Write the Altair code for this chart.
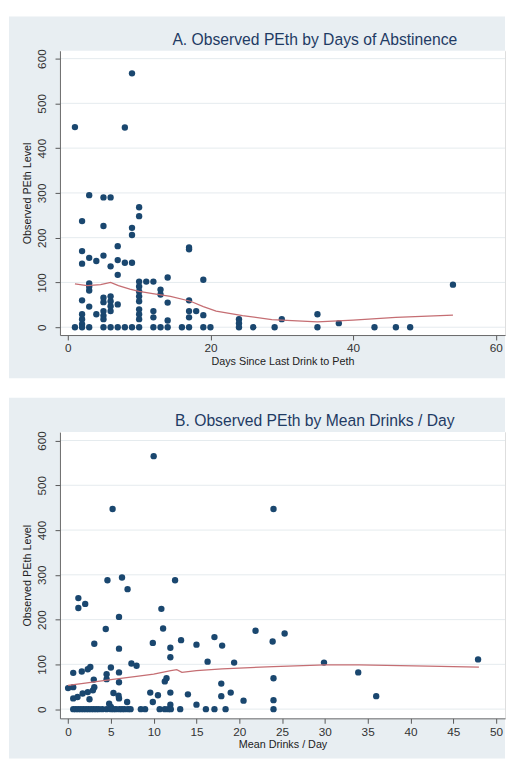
import altair as alt
import pandas as pd

# ---------------- Panel A: PEth by days of abstinence ----------------
days_a = [1, 8, 9,
          2, 3, 5, 6, 5, 10, 10, 9, 9, 7, 2, 2, 3, 4, 5, 6, 7, 8, 9, 7,
          3, 3, 3, 2, 3, 4, 2, 2, 2, 5, 5, 5, 5, 5, 6, 6, 6, 6, 7,
          10, 10, 10, 10, 10, 10, 10, 10,
          11, 12, 12, 12, 13, 13, 14, 14, 14,
          17, 17, 17, 17, 17, 18, 19, 19,
          24, 24, 30, 35, 38, 54,
          1, 2, 3, 5, 6, 7, 8, 9, 10, 12, 13, 14, 16, 17, 19, 20, 24, 26, 29, 35, 43, 46, 48]
peth_a = [447, 446, 567,
          237, 295, 290, 290, 226, 268, 248, 222, 206, 181, 170, 142, 155, 148, 160, 136, 150, 144, 144, 117,
          98, 91, 82, 60, 46, 29, 29, 18, 7, 66, 56, 36, 26, 18, 69, 58, 47, 36, 51,
          102, 91, 80, 69, 58, 40, 29, 18,
          102, 102, 36, 22, 84, 73, 111, 55, 15,
          178, 174, 60, 36, 22, 36, 106, 27,
          18, 9, 18, 29, 9, 95,
          0, 0, 0, 0, 0, 0, 0, 0, 0, 0, 0, 0, 0, 0, 0, 0, 0, 0, 0, 0, 0, 0, 0]

curve_a_x = [1, 2.7, 4.6, 6, 7.1, 8.7, 10, 11.9, 14.4, 17.2, 19, 20.8, 24.5, 28.6, 35, 40, 46, 54]
curve_a_y = [97, 93, 95, 100, 93, 85, 80, 75, 69, 58, 46, 36, 26, 17, 12, 16, 22, 27]

# ---------------- Panel B: PEth by mean drinks / day ----------------
drinks_b = [0, 0.6, 0.6, 0.6, 1.1, 1.2, 1.2, 1.6, 1.7, 2.0, 2.3, 2.3, 2.5, 2.6, 2.9, 3.0, 3.06, 3.06,
            4.4, 4.5, 4.5, 4.6, 4.8, 5.0, 5.0, 5.2, 5.3, 5.9, 5.95, 5.95, 5.95, 5.95, 5.95, 6.3, 6.9,
            6.95, 7.4, 8.0, 9.6, 9.9, 9.9, 10, 10.5, 10.9, 11.1, 11.3, 11.5, 11.95, 11.95, 11.95, 11.95,
            12.5, 13.2, 14, 15, 15, 16.3, 17.1, 18, 17.9, 17.9, 19, 19.4, 20.5, 21.9, 23.9, 24, 24, 24,
            25.3, 29.9, 33.9, 36, 47.9,
            0.6, 0.9, 1.2, 1.5, 1.8, 2.1, 2.4, 2.7, 3.0, 3.3, 3.6, 4.0, 4.5, 5.0, 5.3, 5.6, 6.0, 6.3,
            6.6, 7.0, 7.3, 8.5, 9.0, 10.7, 11.3, 11.7, 12.0, 13.1, 16.1, 17.1, 18.4, 24]
peth_b = [47, 49, 81, 24, 27, 248, 226, 84, 35, 235, 89, 38, 22, 94, 42, 66, 146, 49,
          179, 78, 67, 288, 12, 93, 5, 447, 36, 30, 24, 206, 135, 82, 60, 294, 16,
          268, 102, 97, 37, 16, 148, 565, 31, 224, 180, 62, 69, 137, 116, 37, 10,
          288, 154, 33, 144, 10, 106, 161, 142, 57, 29, 37, 104, 19, 175, 151, 447, 69, 20,
          169, 104, 82, 29, 111,
          0, 0, 0, 0, 0, 0, 0, 0, 0, 0, 0, 0, 0, 0, 0, 0, 0, 0,
          0, 0, 0, 0, 0, 0, 0, 0, 0, 0, 0, 0, 0, 0]

curve_b_x = [0, 2, 5, 8, 10, 11, 12, 12.7, 13.3, 15, 18, 24, 30, 34, 42, 48]
curve_b_y = [53, 58, 66, 73, 78, 82, 86, 88, 82, 86, 90, 95, 99, 99, 96, 94]

y_ticks = [0, 100, 200, 300, 400, 500, 600]
x_ticks_a = [0, 20, 40, 60]
x_ticks_b = [0, 5, 10, 15, 20, 25, 30, 35, 40, 45, 50]

title_a = "A. Observed PEth by Days of Abstinence"
title_b = "B. Observed PEth by Mean Drinks / Day"
xtitle_a = "Days Since Last Drink to Peth"
xtitle_b = "Mean Drinks / Day"
ytitle = "Observed PEth Level"

NAVY = "#1a476f"
LINE = "#c56e73"
PANEL_BG = "#e8eef2"
GRID = "#e4ebee"
FONT = "Liberation Sans"
W = 454


def panel(xs, ys, cx, cy, xdom, ydom, xticks, h, bottom, title, xtitle):
    pts = pd.DataFrame({"x": xs, "y": ys})
    cur = pd.DataFrame({"x": cx, "y": cy})
    grid = pd.DataFrame({"y": y_ticks})
    one = pd.DataFrame({"t": [title]})

    X = alt.X("x:Q", scale=alt.Scale(domain=xdom, nice=False, zero=False),
              axis=alt.Axis(values=xticks, grid=False, title=xtitle, format="d",
                            labelFontSize=12, labelColor="#333", labelPadding=3,
                            labelFont=FONT, titleFont=FONT, titleFontSize=11,
                            titleFontWeight="normal", titleColor="#222", titlePadding=2,
                            tickSize=5, tickColor="#555", domainColor="#666",
                            labelFlush=False, labelOverlap=False, zindex=1))
    Y = alt.Y("y:Q", scale=alt.Scale(domain=ydom, nice=False, zero=False),
              axis=alt.Axis(values=y_ticks, grid=False, title=ytitle, format="d",
                            labelFontSize=12, labelColor="#333", labelPadding=7,
                            labelAngle=270, labelAlign="center", labelBaseline="bottom",
                            labelFont=FONT, titleFont=FONT, titleFontSize=11,
                            titleFontWeight="normal", titleColor="#222", titlePadding=3,
                            tickSize=5, tickColor="#555", domainColor="#666",
                            labelFlush=False, labelOverlap=False, zindex=1))

    bg = alt.Chart(one).mark_rect(color=PANEL_BG).encode(
        x=alt.value(-52), x2=alt.value(W), y=alt.value(-35), y2=alt.value(bottom))
    white = alt.Chart(one).mark_rect(color="white").encode(
        x=alt.value(0), x2=alt.value(W), y=alt.value(0), y2=alt.value(h))
    rules = alt.Chart(grid).mark_rule(color=GRID, strokeWidth=1).encode(y=Y)
    points = alt.Chart(pts).mark_circle(size=42, color=NAVY, opacity=1).encode(x=X, y=Y)
    line = alt.Chart(cur).mark_line(color=LINE, strokeWidth=1.3).encode(x=X, y=Y)
    ttl = alt.Chart(one).mark_text(fontSize=16, font=FONT, color="#1f3b64",
                                   align="center", baseline="middle").encode(
        x=alt.value(260), y=alt.value(-11), text="t:N")
    return alt.layer(bg, white, rules, points, line, ttl).properties(width=W, height=h)


pa = panel(days_a, peth_a, curve_a_x, curve_a_y, [-1.1, 61.3], [-17.5, 617.5],
           x_ticks_a, 290, 334, title_a, xtitle_a)
pb = panel(drinks_b, peth_b, curve_b_x, curve_b_y, [-0.95, 51.05], [-20.6, 618.8],
           x_ticks_b, 292, 333, title_b, xtitle_b)

chart = alt.vconcat(pa, pb, spacing=18).properties(padding=0).configure_view(
    strokeWidth=0).configure(background="white")

chart.save("out.html", embed_options={"renderer": "svg", "actions": False})
